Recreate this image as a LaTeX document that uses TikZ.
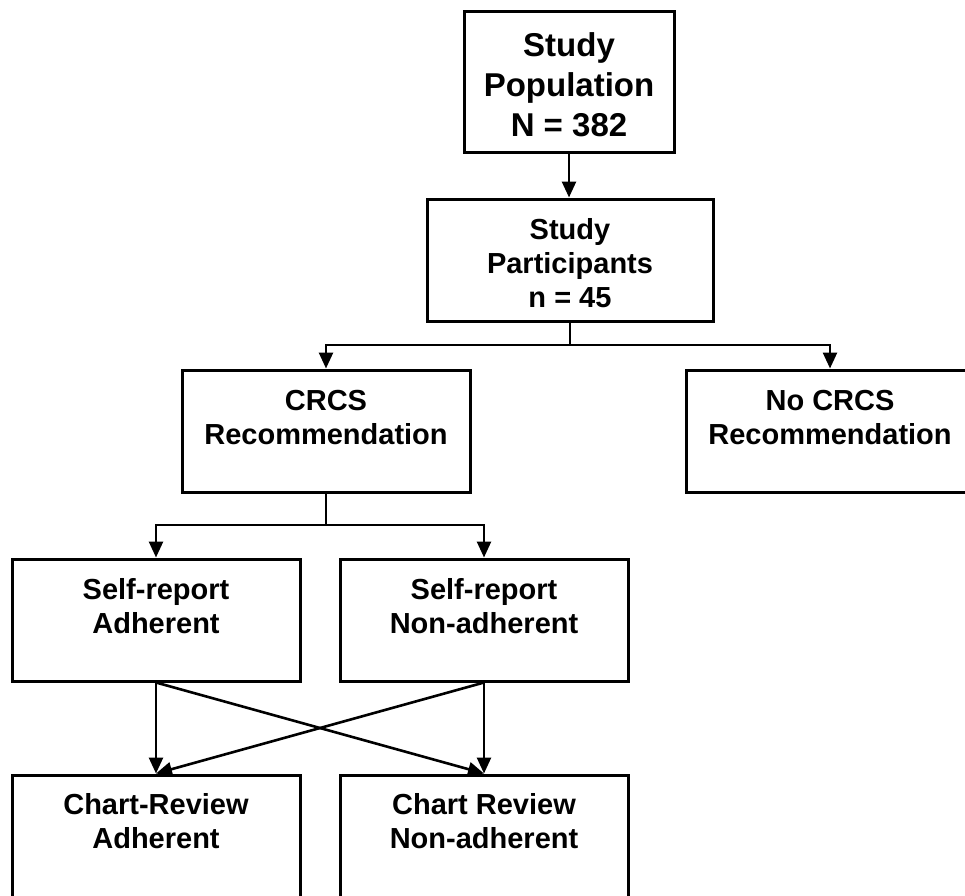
\documentclass[tikz,border=0pt]{standalone}
\usepackage{fontspec}
\setmainfont{Liberation Sans}
\usetikzlibrary{arrows.meta}
\tikzset{
  box/.style={draw, line width=3pt, minimum width=288pt, minimum height=122pt, inner sep=0pt},
  lbl/.style={align=center, font=\fontsize{29}{34}\selectfont\bfseries, inner sep=0pt},
  biglbl/.style={align=center, font=\fontsize{33}{40}\selectfont\bfseries, inner sep=0pt},
  conn/.style={line width=2.6pt},
  arr/.style={conn, -{Triangle[length=16pt,width=14pt]}}
}
\begin{document}
\begin{tikzpicture}[x=1pt,y=-1pt]
\useasboundingbox (0,0) rectangle (965,895);
\clip (0,0) rectangle (965,895);
\fill[white] (0,0) rectangle (965,895);
% boxes
\node[box, minimum width=210pt, minimum height=141pt] (pop) at (569,81.5) {};
\node[biglbl] (popt) at ([yshift=-3pt]pop.center) {Study\\Population\\N = 382};
\node[box, minimum width=286pt] (part) at (570,260) {};
\node[lbl] (partt) at ([yshift=-3pt]part.center) {Study\\Participants\\n = 45};
\node[box] (crcs) at (326,431) {};
\node[lbl] (crcst) at ([yshift=13pt]crcs.center) {CRCS\\Recommendation};
\node[box] (nocrcs) at (830,431) {};
\node[lbl] (nocrcst) at ([yshift=13pt]nocrcs.center) {No CRCS\\Recommendation};
\node[box] (sra) at (156,620) {};
\node[lbl] (srat) at ([yshift=14pt]sra.center) {Self-report\\Adherent};
\node[box] (srn) at (484,620) {};
\node[lbl] (srnt) at ([yshift=14pt]srn.center) {Self-report\\Non-adherent};
\node[box] (cra) at (156,836) {};
\node[lbl] (crat) at ([yshift=15pt]cra.center) {Chart-Review\\Adherent};
\node[box] (crn) at (484,836) {};
\node[lbl] (crnt) at ([yshift=15pt]crn.center) {Chart Review\\Non-adherent};
% connectors
\draw[arr] (pop.south) -- (pop.south |- part.north);
\coordinate (j1) at (570,345);
\draw[conn] (part.south) -- (j1);
\draw[arr] (j1) -| (crcs.north);
\draw[arr] (j1) -| (nocrcs.north);
\coordinate (j2) at (326,525);
\draw[conn] (crcs.south) -- (j2);
\draw[arr] (j2) -| (sra.north);
\draw[arr] (j2) -| (srn.north);
\draw[arr] (sra.south) -- (cra.north);
\draw[arr] (srn.south) -- (crn.north);
\draw[arr] (sra.south) -- (crn.north);
\draw[arr] (srn.south) -- (cra.north);
\end{tikzpicture}
\end{document}
